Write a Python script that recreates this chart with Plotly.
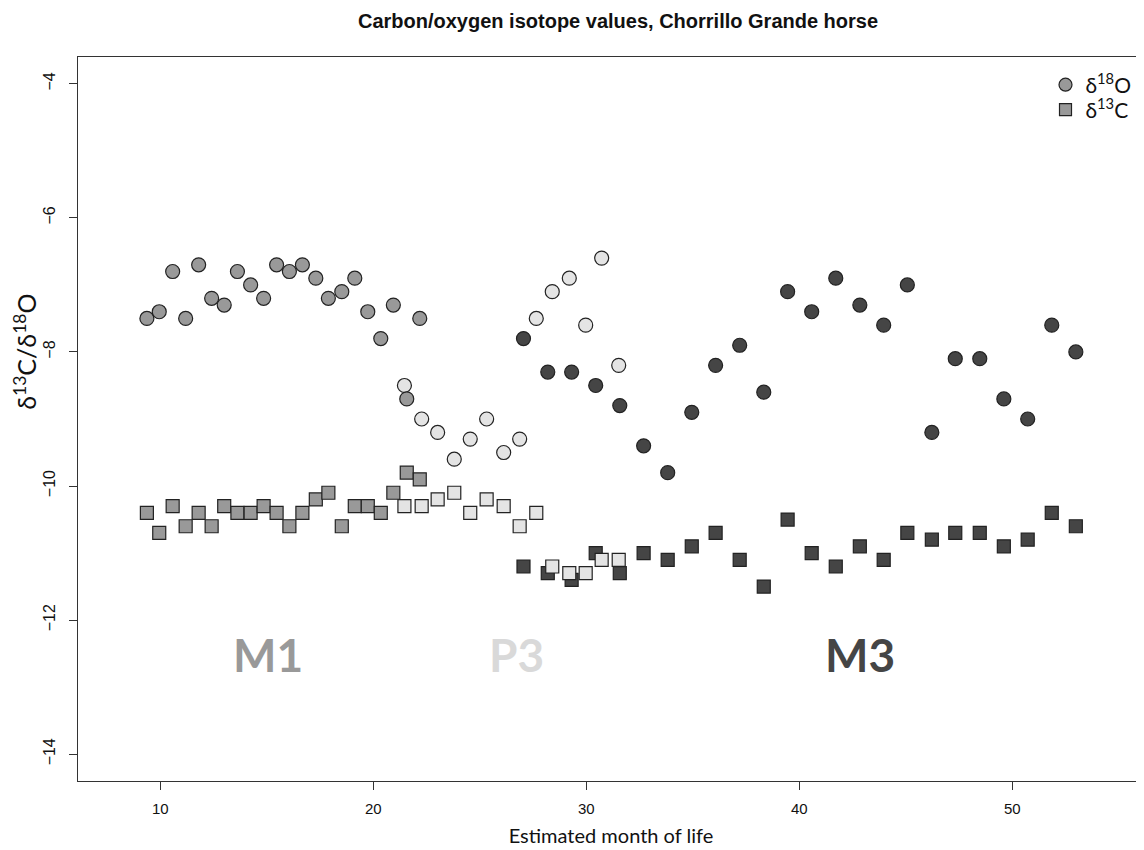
import plotly.graph_objects as go

# ---- data ----
m1_month = [9.37, 9.95, 10.58, 11.19, 11.80, 12.41, 13.00, 13.62, 14.24, 14.85, 15.46,
            16.06, 16.67, 17.30, 17.89, 18.52, 19.13, 19.74, 20.35, 20.94, 21.57, 22.18]
m1_d18O = [-7.5, -7.4, -6.8, -7.5, -6.7, -7.2, -7.3, -6.8, -7.0, -7.2, -6.7,
           -6.8, -6.7, -6.9, -7.2, -7.1, -6.9, -7.4, -7.8, -7.3, -8.7, -7.5]
m1_d13C = [-10.4, -10.7, -10.3, -10.6, -10.4, -10.6, -10.3, -10.4, -10.4, -10.3, -10.4,
           -10.6, -10.4, -10.2, -10.1, -10.6, -10.3, -10.3, -10.4, -10.1, -9.8, -9.9]

p3_month = [21.46, 22.27, 23.02, 23.80, 24.55, 25.32, 26.12, 26.87, 27.65, 28.40,
            29.20, 29.97, 30.72, 31.52]
p3_d18O = [-8.5, -9.0, -9.2, -9.6, -9.3, -9.0, -9.5, -9.3, -7.5, -7.1, -6.9, -7.6, -6.6, -8.2]
p3_d13C = [-10.3, -10.3, -10.2, -10.1, -10.4, -10.2, -10.3, -10.6, -10.4, -11.2,
           -11.3, -11.3, -11.1, -11.1]

m3_month = [27.05, 28.19, 29.31, 30.44, 31.57, 32.69, 33.82, 34.95, 36.07, 37.20, 38.33, 39.45,
            40.58, 41.71, 42.84, 43.96, 45.07, 46.22, 47.32, 48.47, 49.60, 50.72, 51.85, 52.98]
m3_d18O = [-7.8, -8.3, -8.3, -8.5, -8.8, -9.4, -9.8, -8.9, -8.2, -7.9, -8.6, -7.1,
           -7.4, -6.9, -7.3, -7.6, -7.0, -9.2, -8.1, -8.1, -8.7, -9.0, -7.6, -8.0]
m3_d13C = [-11.2, -11.3, -11.4, -11.0, -11.3, -11.0, -11.1, -10.9, -10.7, -11.1, -11.5, -10.5,
           -11.0, -11.2, -10.9, -11.1, -10.7, -10.8, -10.7, -10.7, -10.9, -10.8, -10.4, -10.6]

x_ticks = [10, 20, 30, 40, 50]
y_ticks = [-14, -12, -10, -8, -6, -4]

tooth_labels = ["M1", "P3", "M3"]
tooth_label_x = [15.06, 26.74, 42.84]
tooth_label_y = -12.52

C_M1 = "#999999"
C_P3 = "#e4e4e4"
C_M3 = "#454545"
EDGE = "#222222"
MS = 14

fig = go.Figure()

def add(x, y, color, symbol, size):
    fig.add_trace(go.Scatter(
        x=x, y=y, mode="markers", showlegend=False,
        marker=dict(symbol=symbol, size=size, color=color,
                    line=dict(color=EDGE, width=1.2))))

# draw order: M3 at bottom, then P3, then M1 on top
add(m3_month, m3_d13C, C_M3, "square", MS - 1)
add(m3_month, m3_d18O, C_M3, "circle", MS)
add(p3_month, p3_d13C, C_P3, "square", MS - 1)
add(p3_month, p3_d18O, C_P3, "circle", MS)
add(m1_month, m1_d13C, C_M1, "square", MS - 1)
add(m1_month, m1_d18O, C_M1, "circle", MS)

# legend entries (two separate legends so the row spacing can match)
fig.add_trace(go.Scatter(x=[None], y=[None], mode="markers", name="δ<sup>18</sup>O",
                         legend="legend",
                         marker=dict(symbol="circle", size=13, color=C_M1,
                                     line=dict(color=EDGE, width=1.2))))
fig.add_trace(go.Scatter(x=[None], y=[None], mode="markers", name="δ<sup>13</sup>C",
                         legend="legend2",
                         marker=dict(symbol="square", size=12, color=C_M1,
                                     line=dict(color=EDGE, width=1.2))))

label_colors = [C_M1, "#d9d9d9", C_M3]
for t, xx, col in zip(tooth_labels, tooth_label_x, label_colors):
    fig.add_annotation(x=xx, y=tooth_label_y, xref="x", yref="y", text="<b>" + t + "</b>",
                       showarrow=False, font=dict(family="Lato", size=46, color=col))

# y-axis title (placed off-centre as in the reference)
fig.add_annotation(xref="paper", yref="paper", x=-0.050, y=0.5925,
                   xanchor="center", yanchor="middle",
                   text="δ<sup>13</sup>C/δ<sup>18</sup>O", textangle=-90, showarrow=False,
                   font=dict(family="Lato", size=25, color="#111111"))

legend_font = dict(family="Lato", size=21, color="#111111")

# the page adds an 8 px body margin, so the figure is 8 px smaller than the window
fig.update_layout(
    width=1136, height=842,
    margin=dict(l=70, r=0, t=49, b=69),
    paper_bgcolor="white", plot_bgcolor="white",
    title=dict(text="<b>Carbon/oxygen isotope values, Chorrillo Grande horse</b>",
               x=0.537, xref="container", xanchor="center",
               y=0.985, yref="container", yanchor="middle",
               font=dict(family="Liberation Sans", size=20, color="#111111")),
    legend=dict(x=0.9076, y=0.9613, xanchor="left", yanchor="middle",
                bgcolor="rgba(0,0,0,0)", font=legend_font, itemwidth=30),
    legend2=dict(x=0.9076, y=0.9268, xanchor="left", yanchor="middle",
                 bgcolor="rgba(0,0,0,0)", font=legend_font, itemwidth=30),
    showlegend=True,
)

fig.update_xaxes(range=[6.136, 56.18], tickvals=x_ticks, ticktext=[str(v) for v in x_ticks],
                 showgrid=False, zeroline=False, showline=True, mirror=True,
                 linecolor="#333333", linewidth=1.2, ticks="outside", ticklen=8,
                 ticklabelstandoff=6,
                 tickcolor="#333333", tickfont=dict(family="Liberation Sans", size=15, color="#111111"),
                 title=dict(text="Estimated month of life", standoff=12,
                            font=dict(family="Lato", size=20, color="#111111")))
fig.update_yaxes(range=[-14.4, -3.6], tickvals=y_ticks, ticktext=["\u2212" + str(-v) for v in y_ticks],
                 showgrid=False, zeroline=False, showline=True, mirror=False,
                 linecolor="#333333", linewidth=1.2, ticks="outside", ticklen=8,
                 ticklabelstandoff=8,
                 tickcolor="#333333", tickangle=-90,
                 tickfont=dict(family="Liberation Sans", size=16, color="#111111"))

fig.write_html("out.html")
